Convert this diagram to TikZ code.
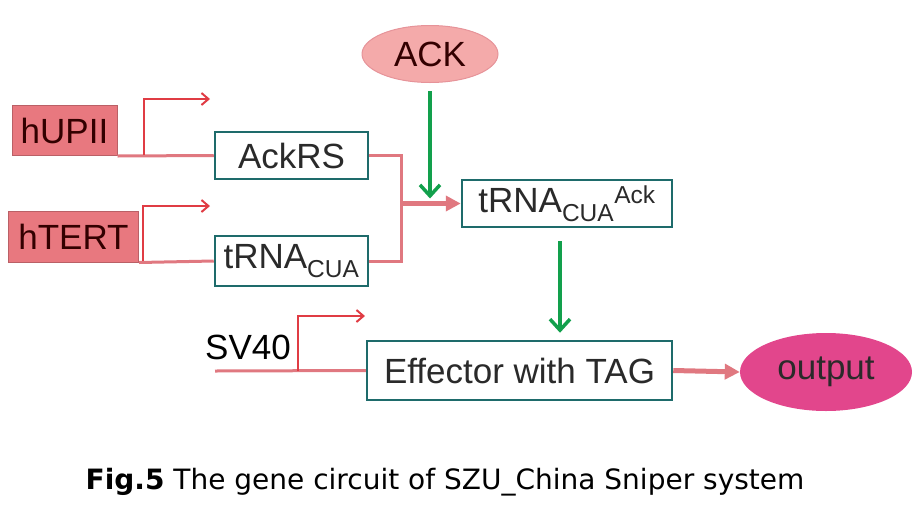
\documentclass[tikz,border=0pt]{standalone}
\usepackage{fontspec}
\setmainfont{Liberation Sans}
\newfontfamily\capfont{DejaVu Sans}
\usetikzlibrary{arrows.meta,positioning,shapes.geometric}
\definecolor{GCteal}{HTML}{1E6B6B}
\definecolor{GCpink}{HTML}{E07880}
\definecolor{GCred}{HTML}{E03C44}
\definecolor{GCgreen}{HTML}{12A04C}
\definecolor{GCrose}{HTML}{E8787F}
\definecolor{GCpale}{HTML}{F4AAAA}
\definecolor{GCmag}{HTML}{E2468C}
\definecolor{GCtext}{HTML}{2A2A2A}
\tikzset{gcbox/.style={draw=GCteal,line width=2.5pt,fill=white,text=GCtext,
 minimum width=153pt,minimum height=47pt,inner sep=0pt,
 font=\fontsize{35}{38}\selectfont},
 gcprom/.style={draw=GCrose!80!black,line width=1pt,fill=GCrose,text=black!80!red,
 inner sep=0pt,font=\fontsize{35}{38}\selectfont},
 gcline/.style={draw=GCpink,line width=3pt},
 gcbent/.style={draw=GCred,line width=2pt,-{Straight Barb[length=7pt,width=12pt]}},
 gcarr/.style={draw=GCpink,line width=5pt,-{Triangle[length=15pt,width=15pt]}},
 gcgreen/.style={draw=GCgreen,line width=3.5pt,-{Straight Barb[length=11pt,width=20pt]}}}
\begin{document}
\begin{tikzpicture}[x=1pt,y=-1pt]
\useasboundingbox (0,0) rectangle (923,517);
\node[gcprom,minimum width=105pt,minimum height=50pt] (hupii) at (64.5,130.5) {hUPII};
\node[gcprom,minimum width=130pt,minimum height=51pt] (htert) at (73.5,236.5) {hTERT};
\node[gcbox] (ackrs) at (291.5,155.5) {AckRS};
\node[gcbox,minimum height=50pt] (trna) at (291.5,261) {tRNA\textsubscript{CUA}};
\node[ellipse,draw=GCpink!80,line width=1pt,fill=GCpale,text=black!80!red,
 minimum width=136pt,minimum height=57pt,inner sep=0pt,
 font=\fontsize{35}{38}\selectfont] (ack) at (430,54) {ACK};
\node[gcbox,minimum width=210pt] (trnaack) at (567,203.5) {tRNA\textsubscript{CUA}\textsuperscript{Ack}};
\node[gcbox,minimum width=305pt,minimum height=59pt] (effector) at (519.5,370.5) {Effector with TAG};
\node[ellipse,fill=GCmag,text=GCtext,minimum width=172pt,minimum height=78pt,
 inner sep=0pt,font=\fontsize{35}{38}\selectfont] (output) at (826,372) {output};
\node[text=black,inner sep=0pt,font=\fontsize{35}{38}\selectfont] (sv40) at (248,347) {SV40};
% promoters
\draw[gcline] (hupii.south east) -- (ackrs.west);
\draw[gcbent] (144,155) |- (210,99);
\draw[gcline] (htert.south east) -- (trna.west);
\draw[gcbent] (143,261) |- (210,206);
\coordinate (svstart) at (215,371);
\draw[gcline] (svstart) -- (effector.west);
\draw[gcbent] (298,371) |- (365,316);
% junction
\draw[gcline] (ackrs.east) -- ++(32,0) coordinate (jn) |- (trna.east);
\draw[gcarr] (jn |- trnaack.west) -- (trnaack.west);
\draw[gcgreen,shorten <=8pt,shorten >=5pt] (ack.south) -- (ack.south |- trnaack.west);
\draw[gcgreen,shorten <=13pt,shorten >=7pt] ([xshift=-7pt]trnaack.south) -- ([xshift=-7pt]trnaack.south |- effector.north);
\draw[gcarr] (effector.east) -- (output.west);
\node[font=\capfont\fontsize{28}{32}\selectfont] (caption) at (445,482) {\textbf{Fig.5} The gene circuit of SZU\_China Sniper system};
\end{tikzpicture}
\end{document}
